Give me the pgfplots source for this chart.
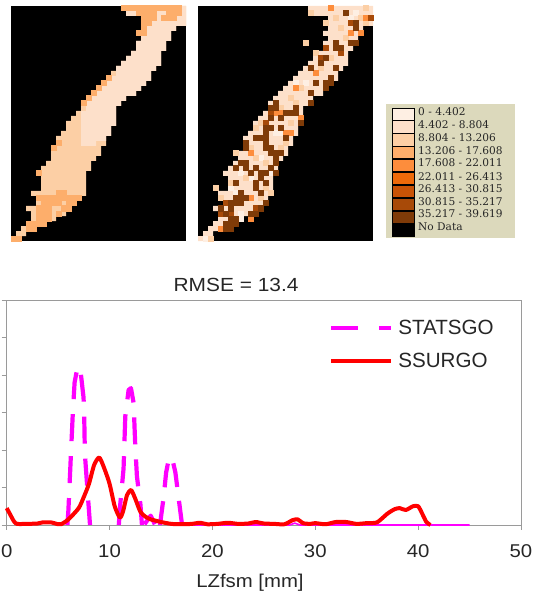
\documentclass[border=0pt]{standalone}
\usepackage{fontspec}
\setmainfont{Liberation Sans}
\newfontfamily\legserif{DejaVu Serif}
\usepackage{graphicx}
\usepackage{pgfplots}
\usepackage{pgfplotstable}
\pgfplotsset{compat=1.18}
\definecolor{c1}{HTML}{FEEFE3}
\definecolor{c2}{HTML}{FDE0CA}
\definecolor{c3}{HTML}{FCCFA5}
\definecolor{c4}{HTML}{FDAE6B}
\definecolor{c5}{HTML}{FD8D3C}
\definecolor{c6}{HTML}{EE6A0A}
\definecolor{c7}{HTML}{C95306}
\definecolor{c8}{HTML}{A84A08}
\definecolor{c9}{HTML}{7F3B08}
\definecolor{legbg}{HTML}{DCD9BC}
\definecolor{framec}{HTML}{9A9A9A}
\definecolor{mag}{RGB}{255,0,255}
\pgfplotsset{
  mapaxis/.style={scale only axis, width=175pt, height=235pt, xmin=0, xmax=35, ymin=0, ymax=47,
    y dir=reverse, ticks=none, axis line style={draw=none}, axis background/.style={fill=black}, anchor=south west},
  cell/.style={only marks, mark=square*, mark size=2.5pt, color=#1, mark options={draw=#1, fill=#1, line width=0pt}},
}
\newcommand{\W}[1]{\scalebox{1.1}[1]{#1}}
% outer mask of the catchment, in grid cells
\pgfplotstableread[row sep=\\]{x y\\22 0\\35 0\\35 4\\33 4\\33 5\\32 5\\32 7\\31 7\\31 9\\30 9\\30 12\\29 12\\29 13\\28 13\\28 15\\27 15\\27 16\\26 16\\26 17\\25 17\\25 18\\23 18\\23 19\\22 19\\22 20\\21 20\\21 24\\20 24\\20 26\\19 26\\19 28\\18 28\\18 30\\17 30\\17 31\\16 31\\16 33\\15 33\\15 38\\14 38\\14 39\\13 39\\13 40\\12 40\\12 41\\11 41\\11 42\\9 42\\9 43\\7 43\\7 44\\5 44\\5 45\\3 45\\3 46\\2 46\\2 47\\0 47\\0 46\\1 46\\1 45\\2 45\\2 44\\3 44\\3 43\\4 43\\4 41\\3 41\\3 40\\5 40\\5 38\\4 38\\4 37\\6 37\\6 34\\5 34\\5 33\\6 33\\6 32\\7 32\\7 31\\8 31\\8 29\\9 29\\9 26\\10 26\\10 25\\11 25\\11 23\\12 23\\12 22\\13 22\\13 21\\14 21\\14 19\\15 19\\15 18\\16 18\\16 17\\17 17\\17 16\\18 16\\18 15\\19 15\\19 14\\20 14\\20 13\\21 13\\21 12\\22 12\\22 11\\23 11\\23 10\\24 10\\24 9\\25 9\\25 7\\26 7\\26 6\\25 6\\25 5\\26 5\\26 2\\23 2\\23 1\\22 1\\}\mask
% lighter upper zone of the STATSGO map
\pgfplotstableread[row sep=\\]{x y\\22 0\\35 0\\35 4\\33 4\\33 5\\32 5\\32 7\\31 7\\31 9\\30 9\\30 12\\29 12\\29 13\\28 13\\28 15\\27 15\\27 16\\26 16\\26 17\\25 17\\25 18\\23 18\\23 19\\22 19\\22 20\\21 20\\21 24\\20 24\\20 26\\19 26\\19 27\\17 27\\17 28\\14 28\\14 21\\15 21\\15 19\\16 19\\16 18\\17 18\\17 17\\18 17\\18 16\\19 16\\19 15\\20 15\\20 14\\21 14\\21 12\\22 12\\22 11\\23 11\\23 10\\24 10\\24 9\\25 9\\25 7\\26 7\\26 6\\25 6\\25 5\\26 5\\26 2\\23 2\\23 1\\22 1\\}\upper
\begin{document}
\begin{tikzpicture}[x=1pt,y=1pt]
\useasboundingbox (0,0) rectangle (544,595);
% ---------- STATSGO map
\begin{axis}[mapaxis, at={(11pt,354pt)}]
\addplot[fill=c3,draw=none] table {\mask} -- cycle;
\addplot[fill=c2,draw=none] table {\upper} -- cycle;
\addplot[cell=c4] coordinates {
(22.5,0.5)(23.5,0.5)(24.5,0.5)(25.5,0.5)(26.5,0.5)(27.5,0.5)(28.5,0.5)(29.5,0.5)(30.5,0.5)(31.5,0.5)(32.5,0.5)(33.5,0.5)
(25.5,1.5)(26.5,1.5)(27.5,1.5)(28.5,1.5)(31.5,1.5)(32.5,1.5)(33.5,1.5)
(26.5,2.5)(27.5,2.5)(28.5,2.5)(30.5,2.5)(31.5,2.5)(32.5,2.5)
(26.5,3.5)(27.5,3.5)(26.5,4.5)(25.5,5.5)(26.5,5.5)
(19.5,14.5)(18.5,15.5)(17.5,16.5)(16.5,17.5)(15.5,18.5)(14.5,19.5)(9.5,27.5)(8.5,28.5)(5.5,33.5)
(9.5,37.5)(10.5,37.5)
(5.5,38.5)(6.5,38.5)(7.5,38.5)(8.5,38.5)(9.5,38.5)(10.5,38.5)(11.5,38.5)(12.5,38.5)(13.5,38.5)
(6.5,39.5)(7.5,39.5)(8.5,39.5)(9.5,39.5)(11.5,39.5)(12.5,39.5)
(5.5,40.5)(6.5,40.5)(7.5,40.5)(10.5,40.5)(11.5,40.5)
(5.5,41.5)(6.5,41.5)(7.5,41.5)(9.5,41.5)
(5.5,42.5)(6.5,42.5)(7.5,42.5)
(3.5,43.5)(4.5,43.5)(5.5,43.5)(6.5,43.5)
(3.5,44.5)(4.5,44.5)(0.5,46.5)(1.5,46.5)};
\end{axis}
% ---------- SSURGO map
\begin{axis}[mapaxis, at={(198pt,354pt)}]
\addplot[fill=c2,draw=none] table {\mask} -- cycle;
\addplot[cell=c1] coordinates {(8.5,33.5)(7.5,37.5)(8.5,41.5)(8.5,42.5)(19.5,15.5)(21.5,15.5)(16.5,25.5)(15.5,25.5)(10.5,34.5)(14.5,33.5)(9.5,31.5)(30.5,2.5)(31.5,1.5)(1.5,46.5)(6.5,36.5)(12.5,30.5)};
\addplot[cell=c3] coordinates {(33.5,0.5)(22.5,1.5)(27.5,2.5)(32.5,2.5)(28.5,4.5)(33.5,3.5)(26.5,10.5)(24.5,12.5)(20.5,16.5)(18.5,18.5)(19.5,19.5)(16.5,20.5)(12.5,23.5)(18.5,23.5)(11.5,30.5)(13.5,31.5)(9.5,34.5)(6.5,35.5)(12.5,38.5)(14.5,37.5)(3.5,36.5)(11.5,24.5)(17.5,27.5)(10.5,28.5)(7.5,29.5)(21.5,7.5)(23.5,9.5)(2.5,46.5)(25.5,3.5)(16.5,28.5)(13.5,36.5)(4.5,38.5)(29.5,6.5)};
\addplot[cell=c5] coordinates {(26.5,0.5)(33.5,2.5)(30.5,5.5)(32.5,5.5)(23.5,13.5)(19.5,16.5)(20.5,22.5)(15.5,21.5)(16.5,21.5)(17.5,25.5)(18.5,25.5)(10.5,29.5)(10.5,38.5)(10.5,42.5)(4.5,44.5)};
\addplot[cell=c8] coordinates {(34.5,2.5)(30.5,3.5)(25.5,8.5)(24.5,10.5)(13.5,23.5)(14.5,21.5)(28.5,9.5)(5.5,39.5)(4.5,41.5)(11.5,40.5)(6.5,40.5)(6.5,41.5)};
\addplot[cell=c9] coordinates {
(29.5,1.5)(31.5,3.5)(31.5,4.5)(30.5,7.5)(31.5,7.5)(27.5,7.5)(27.5,8.5)(28.5,8.5)(25.5,10.5)(24.5,11.5)
(27.5,12.5)(22.5,12.5)(23.5,15.5)(25.5,15.5)(26.5,15.5)(26.5,14.5)(25.5,16.5)(22.5,17.5)(22.5,19.5)(19.5,20.5)
(15.5,19.5)(15.5,20.5)(14.5,20.5)(17.5,21.5)(18.5,21.5)(19.5,21.5)(14.5,22.5)(16.5,22.5)(20.5,23.5)
(13.5,24.5)(14.5,24.5)(16.5,24.5)(13.5,25.5)(17.5,26.5)(11.5,26.5)(12.5,26.5)(13.5,26.5)(9.5,27.5)(13.5,27.5)
(9.5,28.5)(13.5,28.5)(14.5,28.5)(14.5,29.5)(15.5,29.5)(16.5,29.5)(15.5,30.5)(8.5,31.5)(9.5,31.5)(15.5,31.5)
(9.5,32.5)(14.5,32.5)(11.5,32.5)(7.5,32.5)(10.5,33.5)(12.5,33.5)(13.5,33.5)(15.5,33.5)(12.5,34.5)(7.5,35.5)
(11.5,35.5)(13.5,35.5)(11.5,36.5)(8.5,37.5)(12.5,37.5)(7.5,38.5)(8.5,38.5)(9.5,38.5)(6.5,39.5)(7.5,39.5)(8.5,39.5)
(13.5,39.5)(4.5,40.5)(12.5,40.5)(6.5,40.5)(5.5,41.5)(10.5,41.5)(11.5,41.5)(6.5,42.5)(7.5,42.5)(5.5,43.5)(6.5,43.5)(7.5,43.5)
(5.5,44.5)(6.5,44.5)};
\end{axis}
% ---------- map legend
\path[fill=legbg] (386,357) rectangle (515,491);
\foreach \c/\y in {c1/487,c2/474.1,c3/461.2,c4/448.3,c5/435.4,c6/422.5,c7/409.6,c8/396.7,c9/383.8,black/370.9}{
  \path[fill=\c,draw=black,line width=.9pt] (392,\y) rectangle (414.5,\y-12.2);
}
\foreach \t/\y in {0 - 4.402/483,4.402 - 8.804/470,8.804 - 13.206/457,13.206 - 17.608/444,17.608 - 22.011/432,22.011 - 26.413/418,26.413 - 30.815/406,30.815 - 35.217/393,35.217 - 39.619/381,No Data/368}{
  \node[anchor=west,inner sep=0pt,text=black!85,font=\legserif\fontsize{10.6}{11}\selectfont] at (418,\y) {\t};
}
% ---------- distribution chart
\begin{axis}[at={(6.7pt,70pt)}, anchor=south west, scale only axis, width=514.3pt, height=225pt,
  xmin=0, xmax=50, ymin=0, ymax=6,
  xtick={0,10,20,30,40,50}, xticklabels={\W{0},\W{10},\W{20},\W{30},\W{40},\W{50}},
  ytick={0,1,2,3,4,5,6}, yticklabels={},
  tick align=outside, tick pos=left, major tick length=5pt,
  axis line style={draw=framec,line width=.9pt},
  tick style={draw=framec,line width=.7pt},
  xticklabel style={font=\fontsize{18.5}{20}\selectfont, text=black!85, yshift=-11pt},
  title={\W{RMSE = 13.4}}, title style={at={(axis description cs:0.446,1)}, anchor=south, yshift=0pt, font=\fontsize{19}{20}\selectfont, text=black!85, inner sep=2pt},
  xlabel={\W{LZfsm [mm]}}, xlabel style={at={(axis description cs:0.473,-0.258)}, anchor=center, font=\fontsize{18.5}{20}\selectfont, text=black!85},
  clip=false,
  legend style={draw=none, fill=none, at={(axis cs:31.35,5.53)}, anchor=north west, font=\fontsize{20.6}{21}\selectfont, text=black!85, row sep=13pt, inner sep=0pt},
  legend cell align=left,
]
\addplot[color=mag, line width=4.2pt, dash pattern=on 27pt off 15pt, line join=round,
  legend image code/.code={\draw[color=mag,line width=3.6pt] (0,0) -- (31pt,0) (48pt,0) -- (60pt,0);}]
 coordinates {(5.9,0)(6,0.4)(6.23,1.8)(6.43,3)(6.6,3.8)(6.88,4.2)(7.14,4.2)(7.47,3.4)(7.53,3)(7.6,1.9)(7.86,0.9)(8.1,0)};
\addlegendentry{\hspace{3pt}STATSGO}
\addplot[forget plot, color=mag, line width=4.2pt, dash pattern=on 27pt off 15pt, line join=round]
 coordinates {(10.9,0)(11.04,0.55)(11.36,1.5)(11.53,2.9)(11.85,3.6)(12.08,3.65)(12.34,3.25)(12.5,2.1)(12.66,1.3)(13,0.55)(13.15,0)};
\addplot[forget plot, color=mag, line width=4.2pt, line join=round]
 coordinates {(13.4,0.02)(14,0.25)(14.4,0.02)};
\addplot[forget plot, color=mag, line width=4.2pt, dash pattern=on 24pt off 14pt, line join=round]
 coordinates {(14.9,0)(15.26,0.75)(15.5,1.4)(15.75,1.75)(16.07,1.8)(16.4,1.4)(16.7,0.75)(17.05,0)};
\addplot[forget plot, color=mag, line width=1.6pt] coordinates {(17,0)(27.5,0)(28,0.05)(28.5,0)(45,0)};
\addplot[color=red, line width=4pt, line join=round, smooth, tension=0.4,
  legend image code/.code={\draw[color=red,line width=4pt] (0,0) -- (60pt,0);}]
 coordinates {(0,0.45)(0.3,0.3)(0.7,0.1)(1,0.03)(2,0.03)(3,0.04)(3.5,0.07)(4.3,0.07)(5,0.02)(5.3,0.02)(6,0.15)(7,0.45)(7.5,0.75)(8,1.1)(8.5,1.6)(9,1.8)(9.5,1.5)(10,1.1)(10.5,0.5)(11,0.2)(11.3,0.35)(11.7,0.8)(12.1,0.93)(12.5,0.7)(13,0.35)(13.5,0.22)(14,0.15)(15,0.08)(16,0.03)(17,0.02)(18,0.03)(18.8,0.06)(19.5,0.02)(20.5,0.03)(21.5,0.06)(22.5,0.03)(23.5,0.04)(24.2,0.08)(25,0.04)(26,0.03)(27,0.02)(27.8,0.13)(28.3,0.15)(28.8,0.05)(29.5,0.03)(30,0.05)(31,0.02)(32,0.08)(33,0.08)(34,0.03)(35,0.05)(36,0.07)(37,0.3)(37.7,0.42)(38.2,0.45)(38.8,0.4)(39.5,0.5)(40,0.5)(40.4,0.3)(40.8,0.08)(41.2,0)};
\addlegendentry{\hspace{3pt}SSURGO}
\end{axis}
\end{tikzpicture}
\end{document}
